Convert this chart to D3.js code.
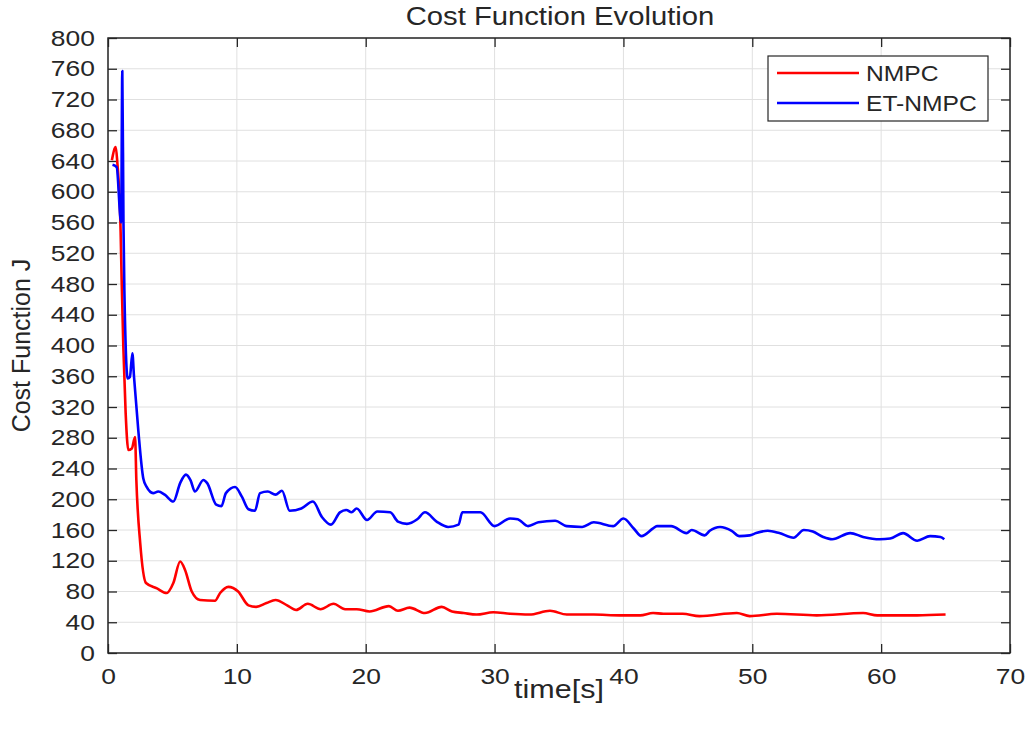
<!DOCTYPE html>
<html><head><meta charset="utf-8">
<script src="https://cdn.jsdelivr.net/npm/d3@7"></script>
<style>body{margin:0;background:#fff}svg{display:block}text{font-family:"Liberation Sans",Arial,sans-serif;fill:#262626}</style>
</head><body><svg id="c" width="1029" height="731"></svg>
<script>
const xTicks=[0,10,20,30,40,50,60,70];
const yTicks=d3.range(0,801,40);
const seriesNames=["NMPC","ET-NMPC"];
const seriesColors=["#ff0000","#0000ff"];
const tNMPC=[0.3,0.6,0.72,0.98,1.06,1.19,1.37,1.58,1.85,2.1,2.2,2.5,2.95,3.8,4.55,5.07,5.6,5.98,6.5,7.14,8.3,8.7,9.34,10.1,10.9,11.5,12.3,13.0,13.9,14.6,15.5,16.5,17.5,18.4,19.3,20.3,21.8,22.5,23.4,24.6,25.9,26.7,27.6,28.6,29.9,31.2,32.7,34.3,35.6,37.7,39.7,41.3,42.3,43.1,44.6,45.9,48.8,49.8,51.9,55.0,58.6,59.7,62.8,65.0];
const vNMPC=[641,658,639,548,485,398,312,264,266,281,225,143,91,84,78,91,119,108,80,69,68,78,86,80,62,60,65,69,62,56,64,57,64,57,57,54,61,55,59,52,60,54,52,50,53,51,50,55,50,50,49,49,52,51,51,48,52,48,51,49,52,49,49,50];
const tET=[0.35,0.67,1.02,1.11,1.2,1.27,1.53,1.7,1.89,2.02,2.35,2.74,3.0,3.5,3.9,4.4,5.07,5.6,6.05,6.4,6.75,7.4,7.7,8.4,8.8,9.15,9.86,10.4,10.9,11.4,11.8,12.4,13.0,13.5,14.1,15.0,15.9,16.6,17.3,18.0,18.5,18.9,19.3,20.1,20.9,21.9,22.5,23.2,24.0,24.6,25.5,26.4,27.2,27.5,28.9,30.0,31.2,31.8,32.6,33.4,34.7,35.6,36.8,37.7,39.2,40.0,40.8,41.4,42.3,42.6,43.7,44.9,45.3,46.3,46.7,47.5,48.4,49.0,49.8,50.3,51.2,52.1,53.2,54.0,54.7,55.5,56.2,57.6,58.6,59.9,60.7,61.7,62.8,63.8,64.6,64.9];
const vET=[635,632,560,757,560,472,357,359,390,359,290,227,216,208,210,206,197,221,232,225,210,225,221,193,191,208,216,203,187,185,208,210,206,211,185,188,197,177,167,183,186,183,188,173,184,183,171,168,174,183,171,164,167,183,183,165,175,174,165,170,172,165,164,170,165,175,162,152,162,165,165,156,160,153,159,164,159,152,153,156,159,156,150,160,158,151,148,156,151,148,149,156,146,152,151,148];

const svg=d3.select("#c");
const L=108,R=1010,T=38,B=653;
const x=d3.scaleLinear().domain([0,70]).range([L,R]);
const y=d3.scaleLinear().domain([0,800]).range([B,T]);
const axCol="#262626",grid="#e0e0e0";

svg.append("rect").attr("width",1029).attr("height",731).attr("fill","#fff");
// grid
svg.append("g").selectAll("line").data(xTicks).join("line")
 .attr("x1",d=>x(d)).attr("x2",d=>x(d)).attr("y1",T).attr("y2",B).attr("stroke",grid).attr("stroke-width",1);
svg.append("g").selectAll("line").data(yTicks).join("line")
 .attr("x1",L).attr("x2",R).attr("y1",d=>y(d)).attr("y2",d=>y(d)).attr("stroke",grid).attr("stroke-width",1);

// axes
const fs=22;
const xa=svg.append("g").attr("transform",`translate(0,${B})`)
 .call(d3.axisBottom(x).tickValues(xTicks).tickSize(-9).tickPadding(15).tickFormat(d3.format("d")));
const ya=svg.append("g").attr("transform",`translate(${L},0)`)
 .call(d3.axisLeft(y).tickValues(yTicks).tickSize(-9).tickPadding(11).tickFormat(d3.format("d")));
const xt=svg.append("g").attr("transform",`translate(0,${T})`)
 .call(d3.axisTop(x).tickValues(xTicks).tickSize(-9).tickFormat(""));
const yr=svg.append("g").attr("transform",`translate(${R},0)`)
 .call(d3.axisRight(y).tickValues(yTicks).tickSize(-9).tickFormat(""));
[xa,ya,xt,yr].forEach(g=>{
  g.select(".domain").remove();
  g.selectAll("line").attr("stroke",axCol).attr("stroke-width",1.3);
  g.selectAll("text").attr("font-size",fs).attr("font-family","Liberation Sans, Arial, sans-serif").attr("fill",axCol)
   .attr("transform","scale(1.2,1)");
});
svg.append("rect").attr("x",L).attr("y",T).attr("width",R-L).attr("height",B-T)
 .attr("fill","none").attr("stroke",axCol).attr("stroke-width",1.5);

// lines
const line=d3.line().x(d=>x(d[0])).y(d=>y(d[1])).curve(d3.curveMonotoneX);
const dataSets=[d3.zip(tNMPC,vNMPC),d3.zip(tET,vET)];
dataSets.forEach((ds,i)=>{
  svg.append("path").datum(ds).attr("d",line).attr("fill","none")
   .attr("stroke",seriesColors[i]).attr("stroke-width",2.6).attr("stroke-linejoin","round");
});

// titles
svg.append("text").attr("transform",`translate(${(L+R)/2+1},25) scale(1.17,1)`).attr("text-anchor","middle").attr("font-size",25).text("Cost Function Evolution");
svg.append("text").attr("transform",`translate(${(L+R)/2},698) scale(1.22,1)`).attr("text-anchor","middle").attr("font-size",25).text("time[s]");
svg.append("text").attr("transform",`translate(30,${(T+B)/2}) rotate(-90)`).attr("text-anchor","middle").attr("font-size",25).text("Cost Function J");

// legend
const lg=svg.append("g");
lg.append("rect").attr("x",768).attr("y",56).attr("width",220).attr("height",65).attr("fill","#fff").attr("stroke",axCol).attr("stroke-width",1.2);
seriesNames.forEach((n,i)=>{
  const yy=73+i*30;
  lg.append("line").attr("x1",777).attr("x2",859).attr("y1",yy).attr("y2",yy).attr("stroke",seriesColors[i]).attr("stroke-width",2.6);
  lg.append("text").attr("transform",`translate(866,${yy+8}) scale(1.12,1)`).attr("font-size",22).text(n);
});
</script></body></html>
